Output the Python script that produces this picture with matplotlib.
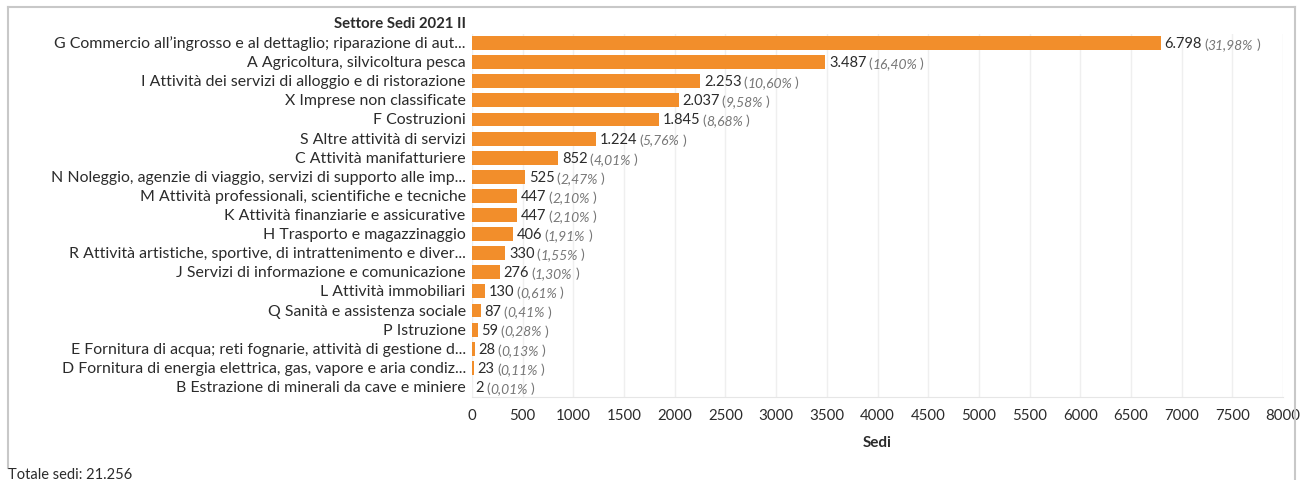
import matplotlib
matplotlib.use("Agg")
import matplotlib.pyplot as plt
from matplotlib.lines import Line2D

# palette
BAR = "#f28e2b"; INK = "#2b2b2b"; SUB = "#777777"; GRID = "#efefef"; FRAME = "#c8c8c8"
FONT = "Lato"

categories = [
    "G Commercio all\u2019ingrosso e al dettaglio; riparazione di aut...",
    "A Agricoltura, silvicoltura pesca",
    "I Attività dei servizi di alloggio e di ristorazione",
    "X Imprese non classificate",
    "F Costruzioni",
    "S Altre attività di servizi",
    "C Attività manifatturiere",
    "N Noleggio, agenzie di viaggio, servizi di supporto alle imp...",
    "M Attività professionali, scientifiche e tecniche",
    "K Attività finanziarie e assicurative",
    "H Trasporto e magazzinaggio",
    "R Attività artistiche, sportive, di intrattenimento e diver...",
    "J Servizi di informazione e comunicazione",
    "L Attività immobiliari",
    "Q Sanità e assistenza sociale",
    "P Istruzione",
    "E Fornitura di acqua; reti fognarie, attività di gestione d...",
    "D Fornitura di energia elettrica, gas, vapore e aria condiz...",
    "B Estrazione di minerali da cave e miniere",
]
sedi = [6798, 3487, 2253, 2037, 1845, 1224, 852, 525, 447, 447, 406, 330, 276, 130, 87, 59, 28, 23, 2]
quota = [31.98, 16.40, 10.60, 9.58, 8.68, 5.76, 4.01, 2.47, 2.10, 2.10, 1.91, 1.55, 1.30,
         0.61, 0.41, 0.28, 0.13, 0.11, 0.01]
xticks = list(range(0, 8001, 500))
total = 21256

W, H = 1304, 481
fig = plt.figure(figsize=(W / 100, H / 100), dpi=100, facecolor="white")
ax = fig.add_axes([472 / W, 1 - 397.5 / H, 811 / W, 363 / H])

y = list(range(len(categories)))
ax.barh(y, sedi, height=0.73, color=BAR, zorder=2)
ax.set_xlim(0, 8000)
ax.set_ylim(len(categories) - 0.5, -0.5)
ax.set_xticks(xticks)
ax.set_xticklabels([str(t) for t in xticks], fontsize=10.8, color=INK, family=FONT)
ax.tick_params(axis="x", length=0, pad=8)
ax.set_yticks([])
ax.grid(axis="x", color=GRID, lw=1, zorder=0)
for s in ["top", "right", "left"]:
    ax.spines[s].set_visible(False)
ax.spines["bottom"].set_color("#e6e6e6")
ax.set_xlabel("Sedi", fontsize=11, color=INK, weight="bold", family=FONT, labelpad=10)

# category labels + header
for i, c in enumerate(categories):
    ax.annotate(c, xy=(0, i), xycoords=("axes fraction", "data"), xytext=(-4.5, 0),
                textcoords="offset points", ha="right", va="center", fontsize=11.4,
                color=INK, family=FONT)
fig.text(466 / W, 1 - 24 / H, "Settore Sedi 2021 II", ha="right", va="center", fontsize=10.7,
         color=INK, weight="bold", family=FONT)

# value labels: "6.798 (31,98% )"
for i, (v, q) in enumerate(zip(sedi, quota)):
    num = f"{v:,}".replace(",", ".")
    t1 = ax.annotate(num, xy=(v, i), xytext=(2.5, 0), textcoords="offset points",
                     ha="left", va="center", fontsize=10.5, color=INK, family=FONT)
    t2 = ax.annotate("(", xy=(1, 0), xycoords=t1, xytext=(1.5, 0), textcoords="offset points",
                     ha="left", va="bottom", fontsize=10, color=SUB, family=FONT)
    t3 = ax.annotate(f"{q:.2f}%".replace(".", ","), xy=(1, 0), xycoords=t2, ha="left",
                     va="bottom", fontsize=10, color=SUB, style="italic", family=FONT)
    ax.annotate(")", xy=(1, 0), xycoords=t3, xytext=(2, 0), textcoords="offset points",
                ha="left", va="bottom", fontsize=10, color=SUB, family=FONT)

# outer frame
fig.add_artist(Line2D([8 / W, 1295 / W], [1 - 8 / H, 1 - 8 / H], color=FRAME, lw=1.5))
fig.add_artist(Line2D([8 / W, 8 / W], [1 - 8 / H, 1 - 469 / H], color=FRAME, lw=1.5))
fig.add_artist(Line2D([1295 / W, 1295 / W], [1 - 8 / H, 0], color=FRAME, lw=1.5))

fig.text(8 / W, 1 - 468 / H, f"Totale sedi: {total:,}".replace(",", "."), ha="left", va="top",
         fontsize=10.5, color=INK, family=FONT)

fig.savefig("out.png", dpi=100, facecolor="white")
